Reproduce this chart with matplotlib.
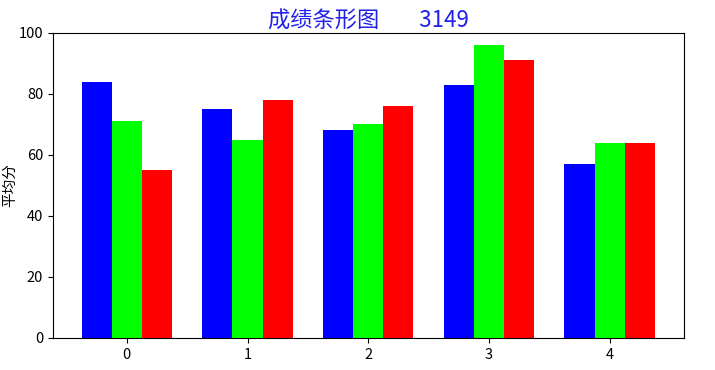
import matplotlib
matplotlib.use('Agg')
import matplotlib.pyplot as plt
import numpy as np

plt.rcParams['font.family'] = ['Noto Sans CJK SC', 'DejaVu Sans']
plt.rcParams['axes.unicode_minus'] = False

# data
groups = [0, 1, 2, 3, 4]
blue_vals = [84, 75, 68, 83, 57]
green_vals = [71, 65, 70, 96, 64]
red_vals = [55, 78, 76, 91, 64]

x = np.arange(len(groups))
width = 0.25

fig = plt.figure(figsize=(7.15, 3.7), dpi=100)
ax = fig.add_axes([0.074, 0.087, 0.882, 0.824])

ax.bar(x - width, blue_vals, width, color='blue')
ax.bar(x, green_vals, width, color='lime')
ax.bar(x + width, red_vals, width, color='red')

ax.set_xticks(x)
ax.set_xticklabels([str(g) for g in groups])
ax.set_ylim(0, 100)
ax.set_ylabel('平均分', fontsize=10.5, labelpad=1)
ax.tick_params(labelsize=10.5)
ax.set_title('成绩条形图        3149', color='#2020e8', fontsize=16, pad=3)

fig.savefig('out.png', dpi=100)
